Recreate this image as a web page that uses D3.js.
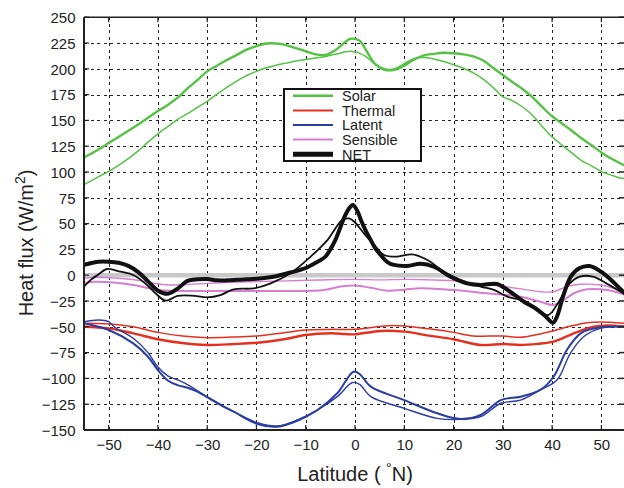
<!DOCTYPE html>
<html>
<head>
<meta charset="utf-8">
<script src="https://cdn.jsdelivr.net/npm/d3@7"></script>
<style>
  html, body { margin: 0; padding: 0; background: #fff; }
  svg { display: block; font-family: "Liberation Sans", Arial, Helvetica, sans-serif; }
</style>
</head>
<body>
<svg id="chart" width="624" height="488"></svg>
<script>
// Zonal-mean surface heat flux components, two estimates each: [latitude °N, W/m²]
const solarA = [[-55,114],[-52,122],[-50,128],[-48,134],[-46,140],[-44,146],[-42,152.5],[-40,159],[-38,165],[-36,172],[-34,181],[-32,189],[-30,197.5],[-28,203],[-26,208.5],[-24,213.5],[-22,218.5],[-20,222],[-18,224.5],[-16,224.5],[-14,223],[-12,220],[-10,217],[-8,214],[-6,213.5],[-4,218],[-2,226],[-1,229],[0,229],[1,227],[2,220],[3,212],[4,205],[6,199],[8,199],[10,203],[12,209],[14,213],[16,214.5],[18,215.5],[20,215],[22,214],[24,212],[26,208],[28,201],[30,194],[32,187],[34,180.5],[36,172.5],[38,163],[40,154],[42,147],[44,140],[46,132.5],[48,126],[50,119],[52,113],[54,108],[55,106]];
const solarB = [[-55,87.7],[-52,95.5],[-50,100.7],[-48,106.5],[-46,113],[-44,120.5],[-42,129],[-40,137],[-38,144],[-36,151],[-34,156.5],[-32,162.5],[-30,168.5],[-28,175.5],[-26,182],[-24,188],[-22,193.5],[-20,197.6],[-18,201],[-16,203.5],[-14,205.5],[-12,207.5],[-10,209],[-8,210.5],[-6,212],[-4,214],[-2,216.5],[-1,217],[0,216.5],[1,215],[2,212.5],[3,209],[4,205],[6,200],[8,200],[10,205],[12,210],[14,211],[16,209.5],[18,207],[20,204],[22,200.5],[24,196],[26,190],[28,182],[30,173],[32,169],[34,163],[36,155],[38,144],[40,134],[42,126],[44,118.5],[46,111],[48,106],[50,100.5],[52,97],[54,94],[55,94]];

const thermalA = [[-55,-49.9],[-50,-51.5],[-45,-56.3],[-40,-62.1],[-34.7,-66],[-30,-67.6],[-24.6,-66.7],[-19.8,-65.4],[-14.4,-62.1],[-10,-57.9],[-4.9,-56.3],[-2,-57],[0,-57.3],[5.2,-54],[10,-54.7],[15,-58.5],[20,-62.1],[25.5,-67.6],[30.2,-66.7],[33.6,-67.6],[37,-66.5],[40.3,-64.4],[44.4,-56.3],[48.4,-49.9],[51.1,-48.6],[55,-49.9]];
const thermalB = [[-55,-46.6],[-50,-47.3],[-45,-49.9],[-40,-55.4],[-35,-59],[-30,-60.5],[-25,-60],[-20,-58.9],[-14.4,-55.7],[-10,-53.1],[-5,-52.5],[0,-52.4],[6.6,-48.9],[10,-49.2],[15,-52],[20,-55.4],[24,-58.9],[30,-58.9],[33.6,-60.2],[37,-57.5],[40.3,-53.8],[44,-49],[47.1,-46],[49.8,-45.3],[55,-46.6]];

const latentA = [[-55,-46.6],[-50,-53.1],[-45,-66],[-42,-79],[-40,-92],[-38,-102],[-36,-106.5],[-34,-109],[-32,-112.9],[-27.9,-124.1],[-24.6,-132.3],[-19.8,-144.2],[-15.8,-146.8],[-11.7,-141],[-7.6,-130.6],[-3.6,-114.4],[-0.3,-93.5],[1,-96],[3.2,-108],[10,-121],[16.7,-133.8],[21.4,-139.3],[25.5,-135.5],[29.6,-121],[33.6,-117.7],[37.6,-111.2],[40.3,-98.4],[43,-72.5],[45.8,-56.3],[49.8,-50.5],[55,-49.9]];
const latentB = [[-55,-45],[-52,-43.4],[-50,-45],[-48.9,-49.9],[-45,-61.1],[-42,-75],[-40,-89],[-38,-97.5],[-36,-101.5],[-34,-106],[-30,-117.7],[-25.3,-130.6],[-19.8,-142.9],[-15.8,-146.1],[-11.7,-140.3],[-7.6,-130.6],[-3.6,-117.7],[-0.5,-104],[1,-106],[3.2,-117.7],[10,-129],[16.7,-138.7],[21.4,-139.7],[25.5,-137.1],[29.6,-124.1],[33.6,-121],[37.6,-111.2],[41,-101.6],[43.7,-75.7],[46.4,-59.6],[49.8,-51.5],[55,-49.9]];

const sensibleA = [[-55,-7.5],[-52.9,-6.3],[-49,-7],[-45,-9.5],[-42,-12.5],[-40.1,-14.3],[-34.7,-15.3],[-24.6,-15.3],[-14.4,-15.3],[-6.3,-14.3],[-2.9,-11],[0,-10],[3,-12],[6.6,-15],[10,-14],[13.3,-12.7],[20,-14.3],[26.8,-17.5],[33.6,-20.8],[37.6,-25.7],[40.3,-28.9],[42.4,-24],[44.4,-17.5],[47.1,-13.7],[51.1,-14.3],[55,-19]];
const sensibleB = [[-55,-3],[-52,-2],[-48.2,-3],[-44,-5],[-40.8,-7.9],[-38,-9.5],[-34,-9],[-30,-7.9],[-25,-7],[-21.2,-6.3],[-14,-5.5],[-7.6,-4.7],[0,-4],[5,-4.5],[10,-4],[15,-4.5],[20,-5.4],[25,-8],[30.2,-11],[34,-13.5],[37.6,-16],[40.3,-16],[43,-11],[45.8,-8.8],[49.8,-9.5],[52,-12],[55,-18]];

const netA = [[-55,10],[-52,13],[-50,13],[-48,12],[-46,9],[-44,3],[-42,-6],[-40,-15],[-38,-18],[-36,-13],[-34,-5.5],[-32,-4],[-30,-3.7],[-28,-5],[-26,-5],[-24,-4.5],[-22,-4],[-20,-3.4],[-18,-2.5],[-16,-1],[-14,1.5],[-12,4],[-10,7],[-8,12],[-6,18],[-5,25],[-4,34],[-3,46],[-2,58],[-1,66],[-0.4,68],[0.5,62],[1.2,53.5],[2,45],[3.2,34],[4,27],[5.2,19.6],[6.5,13],[7.9,10],[10.6,9],[13.3,11],[16,8.2],[19.4,-1.4],[22.7,-7.9],[25.5,-9.5],[28.8,-8.5],[31.5,-16],[34.3,-25.7],[36.6,-32],[38.7,-40],[40.2,-46],[41,-40],[42.2,-21],[43.8,-1.4],[45.5,6.7],[47.6,8.9],[50.4,1.8],[52.7,-7.9],[55,-19]];
const netB = [[-55,-11],[-53.5,-4],[-52.3,0],[-50.3,6],[-47.6,3.4],[-44.9,0],[-42.2,-9.5],[-40.5,-17.5],[-38.4,-24.7],[-36,-20],[-32.6,-20],[-30,-21.4],[-27.3,-19.2],[-24.6,-13.7],[-20.5,-12.7],[-17.1,-7.9],[-13.1,1.8],[-9,18],[-5.6,34],[-2.6,53.5],[-1.2,55],[-0.2,52],[1.8,40.6],[3.9,29.3],[5.9,19.6],[8.6,18],[11.6,20.2],[14.7,14.7],[18,3.4],[21.4,-4.7],[25.5,-11],[28.2,-14.3],[30.9,-20.8],[33.6,-24],[36.3,-30.5],[39.2,-38.6],[41.2,-27],[43.6,-8],[45.6,-1.4],[48.3,-1.4],[51,-7.9],[55,-19]];

const xTicks = [-50, -40, -30, -20, -10, 0, 10, 20, 30, 40, 50];
const yTicks = [-150, -125, -100, -75, -50, -25, 0, 25, 50, 75, 100, 125, 150, 175, 200, 225, 250];
const legendNames = ["Solar", "Thermal", "Latent", "Sensible", "NET"];

const colors = { Solar: "#55c245", Thermal: "#e6301f", Latent: "#2a3da2", Sensible: "#d67fcf", NET: "#111111" };

const series = [
  { name: "Solar", data: solarA, w: 2.4 },
  { name: "Solar", data: solarB, w: 1.5 },
  { name: "Thermal", data: thermalA, w: 2.4 },
  { name: "Thermal", data: thermalB, w: 1.5 },
  { name: "Latent", data: latentA, w: 2.0 },
  { name: "Latent", data: latentB, w: 1.4 },
  { name: "Sensible", data: sensibleA, w: 2.0 },
  { name: "Sensible", data: sensibleB, w: 1.4 },
  { name: "NET", data: netA, w: 4.0 },
  { name: "NET", data: netB, w: 1.8 }
];

const svg = d3.select("#chart");
const plot = { left: 84, right: 626, top: 17.2, bottom: 430 };

const x = d3.scaleLinear().domain([-55, 55]).range([plot.left, plot.right]);
const y = d3.scaleLinear().domain([-150, 250]).range([plot.bottom, plot.top]);

svg.append("defs").append("clipPath").attr("id", "clip")
  .append("rect").attr("x", plot.left).attr("y", plot.top)
  .attr("width", plot.right - plot.left).attr("height", plot.bottom - plot.top);

// dotted grid
const grid = svg.append("g").attr("stroke", "#222").attr("stroke-width", 1)
  .attr("stroke-dasharray", "3,3.5").attr("shape-rendering", "crispEdges");
grid.selectAll(".gx").data(xTicks).join("line")
  .attr("x1", d => Math.round(x(d)) + 0.5).attr("x2", d => Math.round(x(d)) + 0.5)
  .attr("y1", plot.top).attr("y2", plot.bottom);
grid.selectAll(".gy").data(yTicks.filter(d => d > -150 && d < 250)).join("line")
  .attr("y1", d => Math.round(y(d)) + 0.5).attr("y2", d => Math.round(y(d)) + 0.5)
  .attr("x1", plot.left).attr("x2", plot.right);

// zero reference
svg.append("line")
  .attr("x1", plot.left).attr("x2", plot.right)
  .attr("y1", y(0)).attr("y2", y(0))
  .attr("stroke", "#c9c9c9").attr("stroke-width", 4.5);

const line = d3.line()
  .x(d => x(d[0])).y(d => y(d[1]))
  .curve(d3.curveCatmullRom.alpha(0.5));

svg.append("g").attr("clip-path", "url(#clip)")
  .selectAll("path").data(series).join("path")
  .attr("d", d => line(d.data))
  .attr("fill", "none")
  .attr("stroke", d => colors[d.name])
  .attr("stroke-width", d => d.w)
  .attr("stroke-linejoin", "round")
  .attr("stroke-linecap", "round");

// axes
const xAxis = d3.axisBottom(x).tickValues(xTicks).tickSize(0).tickPadding(0);
const gx = svg.append("g").attr("transform", `translate(0,${plot.bottom})`).call(xAxis);
gx.select(".domain").remove();
gx.selectAll("text").attr("y", 20).attr("dy", 0)
  .attr("font-size", 15).attr("fill", "#222").attr("font-family", "Liberation Sans, Arial, sans-serif");

const yAxis = d3.axisLeft(y).tickValues(yTicks).tickSize(0).tickPadding(0);
const gy = svg.append("g").attr("transform", `translate(${plot.left},0)`).call(yAxis);
gy.select(".domain").remove();
gy.selectAll("text").attr("x", -8.5).attr("dy", "0.35em")
  .attr("font-size", 15).attr("fill", "#222").attr("font-family", "Liberation Sans, Arial, sans-serif");

// frame with inward ticks
const frame = svg.append("g").attr("stroke", "#222").attr("fill", "none");
frame.append("line").attr("x1", plot.left).attr("x2", plot.right).attr("y1", plot.top).attr("y2", plot.top).attr("stroke-width", 1.5);
frame.append("line").attr("x1", plot.left).attr("x2", plot.right).attr("y1", plot.bottom).attr("y2", plot.bottom).attr("stroke-width", 2);
frame.append("line").attr("x1", plot.left).attr("x2", plot.left).attr("y1", plot.top).attr("y2", plot.bottom).attr("stroke-width", 2);
frame.selectAll(".tt").data(xTicks).join("line")
  .attr("x1", d => x(d)).attr("x2", d => x(d)).attr("y1", plot.top).attr("y2", plot.top + 5).attr("stroke-width", 1.2);
frame.selectAll(".tb").data(xTicks).join("line")
  .attr("x1", d => x(d)).attr("x2", d => x(d)).attr("y1", plot.bottom).attr("y2", plot.bottom - 5).attr("stroke-width", 1.2);
frame.selectAll(".tl").data(yTicks).join("line")
  .attr("x1", plot.left).attr("x2", plot.left + 5).attr("y1", d => y(d)).attr("y2", d => y(d)).attr("stroke-width", 1.2);
frame.selectAll(".tr").data(yTicks).join("line")
  .attr("x1", plot.right - 2).attr("x2", plot.right - 7).attr("y1", d => y(d)).attr("y2", d => y(d)).attr("stroke-width", 1.5);

// axis titles
const xt = svg.append("text").attr("x", 355).attr("y", 481).attr("text-anchor", "middle")
  .attr("font-size", 20).attr("fill", "#222");
xt.append("tspan").text("Latitude ( ");
xt.append("tspan").attr("font-size", 14).attr("dy", -8).text("°");
xt.append("tspan").attr("dy", 8).text("N)");

const yt = svg.append("text").attr("transform", "translate(33,243) rotate(-90)")
  .attr("text-anchor", "middle").attr("font-size", 20).attr("fill", "#222");
yt.append("tspan").text("Heat flux (W/m");
yt.append("tspan").attr("font-size", 14).attr("dy", -8).text("2");
yt.append("tspan").attr("dy", 8).text(")");

// legend
const lg = svg.append("g").attr("transform", "translate(284,89)");
lg.append("rect").attr("width", 137).attr("height", 72)
  .attr("fill", "#fff").attr("stroke", "#111").attr("stroke-width", 2);
const legendWidths = { Solar: 2.5, Thermal: 2, Latent: 2.2, Sensible: 2, NET: 5 };
const rows = lg.selectAll("g.row").data(legendNames).join("g")
  .attr("transform", (d, i) => `translate(0,${6.8 + i * 14.6})`);
rows.append("line").attr("x1", 9).attr("x2", 49)
  .attr("stroke", d => colors[d]).attr("stroke-width", d => legendWidths[d]);
rows.append("text").attr("x", 58).attr("y", 5.3).attr("font-size", 14.5).attr("fill", "#222").text(d => d);
</script>
</body>
</html>
